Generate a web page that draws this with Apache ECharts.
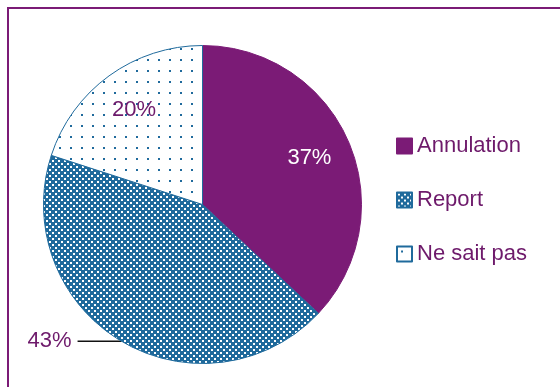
<!DOCTYPE html>
<html>
<head>
<meta charset="utf-8">
<script src="https://cdn.jsdelivr.net/npm/echarts@6/dist/echarts.min.js"></script>
<style>
html,body{margin:0;padding:0;background:#fff;}
#frame{position:absolute;left:7px;top:7px;width:560px;height:400px;border-left:2px solid #7B1B76;border-top:2px solid #7B1B76;}
#chart{position:absolute;left:0;top:0;width:560px;height:387px;}
</style>
</head>
<body>
<div id="frame"></div>
<div id="chart"></div>
<script>
const categories = ['Annulation', 'Report', 'Ne sait pas'];
const values = [37, 43, 20];

const PURPLE = '#7B1B76';
const TEXT = '#6E1A6B';
const BLUE = '#1F6A9C';

function checkPattern() {
  const c = document.createElement('canvas');
  c.width = 6; c.height = 6;
  const g = c.getContext('2d');
  g.fillStyle = BLUE; g.fillRect(0, 0, 6, 6);
  g.fillStyle = '#ffffff';
  g.fillRect(1, 1, 2, 2);
  g.fillRect(4, 4, 2, 2);
  return { image: c, repeat: 'repeat' };
}
function dotPattern() {
  const c = document.createElement('canvas');
  c.width = 11; c.height = 11;
  const g = c.getContext('2d');
  g.fillStyle = '#ffffff'; g.fillRect(0, 0, 11, 11);
  g.fillStyle = BLUE;
  g.fillRect(4, 4, 2, 2);
  return { image: c, repeat: 'repeat' };
}

const fills = [PURPLE, checkPattern(), dotPattern()];
const borders = [PURPLE, BLUE, BLUE];

const chart = echarts.init(document.getElementById('chart'), null, { renderer: 'canvas' });
const font = '"Liberation Sans", Arial, sans-serif';

const mainData = categories.map((name, i) => ({
  name: name,
  value: values[i],
  itemStyle: { color: fills[i], borderColor: borders[i], borderWidth: 1 },
  label: i === 1 ? {
    show: true, position: 'outside', formatter: '{c}%', color: TEXT,
    fontSize: 22, fontFamily: font, distanceToLabelLine: 6, padding: [0, 0, 14, 0]
  } : { show: false },
  labelLine: i === 1 ? {
    show: true, length: 0, length2: 44, smooth: false,
    lineStyle: { color: '#111111', width: 1.5 }
  } : { show: false }
}));

const labelColors = ['#ffffff', TEXT, TEXT];
const overlayData = categories.map((name, i) => ({
  name: 'lbl' + i,
  value: values[i],
  itemStyle: { color: 'rgba(0,0,0,0)', borderWidth: 0 },
  label: i === 1 ? { show: false } : {
    show: true, position: 'inside', formatter: '{c}%', color: labelColors[i],
    fontSize: 22, fontFamily: font
  }
}));

chart.setOption({
  animation: false,
  backgroundColor: 'transparent',
  legend: {
    orient: 'vertical',
    left: 391,
    top: 130,
    itemWidth: 15,
    itemHeight: 15,
    itemGap: 32,
    icon: 'rect',
    data: categories,
    textStyle: { color: TEXT, fontSize: 22, fontFamily: font, lineHeight: 22 },
    selectedMode: false
  },
  series: [
    {
      type: 'pie',
      center: [202.5, 204.5],
      radius: [0, 159],
      startAngle: 90,
      clockwise: true,
      avoidLabelOverlap: false,
      emphasis: { disabled: true },
      data: mainData
    },
    {
      type: 'pie',
      center: [202.5, 204.5],
      radius: [68, 159],
      startAngle: 90,
      clockwise: true,
      silent: true,
      avoidLabelOverlap: false,
      emphasis: { disabled: true },
      labelLine: { show: false },
      data: overlayData
    }
  ]
});
</script>
</body>
</html>
